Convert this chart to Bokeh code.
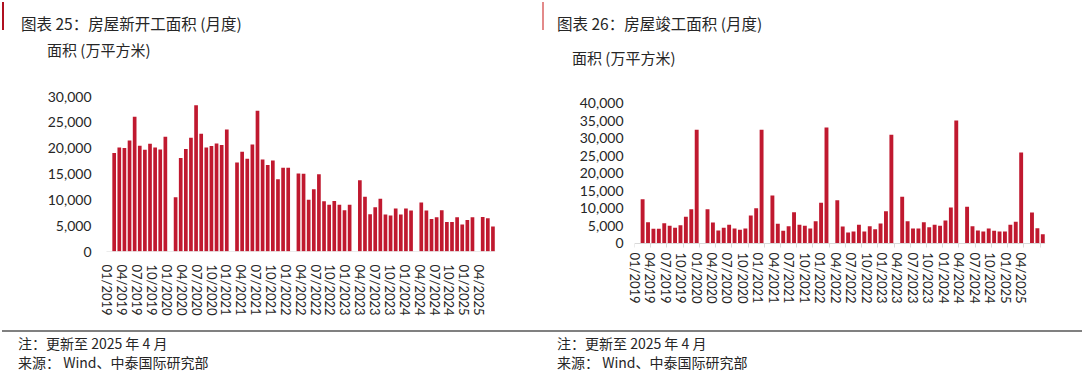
from bokeh.plotting import figure
from bokeh.models import (Range1d, FixedTicker, LinearAxis, ColumnDataSource,
                          NumeralTickFormatter, Div)
from bokeh.layouts import row, column
from bokeh.embed import file_html
from bokeh.resources import INLINE

# ---------------- data ----------------
tick_labels = ["01/2019", "04/2019", "07/2019", "10/2019",
               "01/2020", "04/2020", "07/2020", "10/2020",
               "01/2021", "04/2021", "07/2021", "10/2021",
               "01/2022", "04/2022", "07/2022", "10/2022",
               "01/2023", "04/2023", "07/2023", "10/2023",
               "01/2024", "04/2024", "07/2024", "10/2024",
               "01/2025", "04/2025"]

# 房屋新开工面积 (万平方米), Jan..Dec, January not reported
start_2019 = [None, 19050, 20140, 20010, 21490, 26060, 20460, 19690, 20850, 20140, 19760, 22200]
start_2020 = [None, 10490, 18080, 19820, 22010, 28310, 22780, 20140, 20400, 20910, 20590, 23620]
start_2021 = [None, 17250, 19300, 17950, 20720, 27220, 17830, 16730, 17630, 13960, 16220, 16220]
start_2022 = [None, 15120, 15060, 10040, 12030, 14930, 9720, 9070, 9780, 9070, 7980, 9070]
start_2023 = [None, 13770, 10620, 7210, 8560, 10230, 7140, 6950, 8300, 7140, 8300, 7920]
start_2024 = [None, 9460, 7920, 6310, 6630, 7980, 5730, 5730, 6630, 5210, 6110, 6630]
start_2025 = [None, 6690, 6440, 4830]

# 房屋竣工面积 (万平方米)
comp_2019 = [None, 12670, 6100, 4190, 4190, 5810, 5050, 4480, 5240, 7620, 9810, 32480]
comp_2020 = [None, 9810, 6000, 3710, 4480, 5330, 4290, 3900, 4290, 8000, 10100, 32480]
comp_2021 = [None, 13710, 5620, 3620, 4950, 8950, 5330, 5050, 4290, 6380, 11620, 33140]
comp_2022 = [None, 12380, 4860, 3140, 3430, 5330, 3430, 4950, 4100, 5710, 9240, 31050]
comp_2023 = [None, 13330, 6380, 4290, 4290, 6100, 4670, 5330, 5050, 6570, 10290, 35140]
comp_2024 = [None, 10480, 4950, 3710, 3430, 4290, 3620, 3430, 3430, 5330, 6190, 26000]
comp_2025 = [None, 8860, 4380, 2670]

starts = start_2019 + start_2020 + start_2021 + start_2022 + start_2023 + start_2024 + start_2025
comps = comp_2019 + comp_2020 + comp_2021 + comp_2022 + comp_2023 + comp_2024 + comp_2025

titles = ["图表 25：房屋新开工面积 (月度)", "图表 26：房屋竣工面积 (月度)"]
unit_label = "面积 (万平方米)"
note = "注：更新至 2025 年 4 月"
source_note = "来源： Wind、中泰国际研究部"

RED = "#C0192F"
TXT = "#262626"
CJK = "Noto Sans CJK SC"
NUM = "Lato"
W = 537
HEAD_H = 69
FIG_H = 241
FOOT_H = 42
FT, FB = 17, 69      # common frame for both panels


def panel(vals, y_range, y_end, fl, fw, lab_range, standoff_y, standoff_lab):
    n = len(vals)
    xs = [i + 0.5 for i, v in enumerate(vals) if v is not None]
    tops = [v for v in vals if v is not None]
    src = ColumnDataSource(dict(x=xs, top=tops))
    p = figure(width=W, height=FIG_H, output_backend="svg", toolbar_location=None,
               x_range=Range1d(0, n), y_range=Range1d(*y_range),
               min_border_left=fl, min_border_right=W - fl - fw,
               min_border_top=FT, min_border_bottom=FB)
    p.outline_line_color = None
    p.xgrid.visible = False
    p.ygrid.visible = False
    p.background_fill_color = "white"
    p.border_fill_color = "white"

    p.vbar(x="x", top="top", width=0.72, source=src, fill_color=RED, line_color=None)

    ya = p.yaxis[0]
    ya.ticker = FixedTicker(ticks=list(range(0, y_end + 1, 5000)))
    ya.formatter = NumeralTickFormatter(format="0,0")
    ya.axis_line_color = None
    ya.major_tick_line_color = None
    ya.minor_tick_line_color = None
    ya.major_tick_out = 0
    ya.major_tick_in = 0
    ya.major_label_standoff = standoff_y
    ya.major_label_text_font = NUM
    ya.major_label_text_font_size = "14px"
    ya.major_label_text_color = TXT

    xa = p.xaxis[0]
    bticks = list(range(0, n, 3))
    xa.ticker = FixedTicker(ticks=bticks)
    xa.fixed_location = 0
    xa.major_label_overrides = {t: "" for t in bticks}
    xa.major_label_text_font_size = "1px"
    xa.major_label_standoff = 0
    xa.axis_line_color = "#D9D9D9"
    xa.major_tick_line_color = "#D9D9D9"
    xa.minor_tick_line_color = None
    xa.major_tick_out = 4
    xa.major_tick_in = 0

    p.extra_x_ranges = {"lab": Range1d(*lab_range)}
    la = LinearAxis(x_range_name="lab")
    lticks = [3 * k for k in range(len(tick_labels))]
    la.ticker = FixedTicker(ticks=lticks)
    la.major_label_overrides = {t: s for t, s in zip(lticks, tick_labels)}
    la.major_label_orientation = "vertical"
    la.axis_line_color = None
    la.major_tick_line_color = None
    la.minor_tick_line_color = None
    la.major_tick_out = 0
    la.major_tick_in = 0
    la.major_label_standoff = standoff_lab
    la.major_label_text_font = NUM
    la.major_label_text_font_size = "13px"
    la.major_label_text_color = TXT
    p.add_layout(la, "below")
    return p


# left: 0 at frame bottom, 30,000 at frame top
p1 = panel(starts, (0, 30000), 30000, 106, 389, (-0.2, 78.3), 15, 13)
# right: 0 sits 8px above frame bottom, 40,000 7px below frame top
p2 = panel(comps, (-2290, 42000), 40000, 97, 411, (-0.05, 79.75), 11, 1)


def txt(x, top, s, size):
    return (f'<span style="position:absolute;left:{x}px;top:{top}px;font-size:{size}px;'
            f'line-height:1;white-space:nowrap;">{s}</span>')


head_html = (
    f'<div style="position:relative;width:1074px;height:{HEAD_H}px;font-family:\'{CJK}\';color:{TXT};">'
    '<div style="position:absolute;left:-3px;top:-3px;width:1.6px;height:28px;background:#B01020;"></div>'
    '<div style="position:absolute;left:537px;top:-3px;width:1.6px;height:28px;background:#E38A8A;"></div>'
    + txt(16, 11, titles[0], 15.5) + txt(42, 37, unit_label, 15)
    + txt(552, 11, titles[1], 15.5) + txt(567, 45, unit_label, 15)
    + '</div>'
)
foot_html = (
    f'<div style="position:relative;width:1074px;height:{FOOT_H}px;font-family:\'{CJK}\';color:{TXT};">'
    '<div style="position:absolute;left:-3px;top:5px;width:1080px;height:2px;background:#808080;"></div>'
    + txt(13, 11, note, 14) + txt(13, 30, source_note, 14)
    + txt(552, 11, note, 14) + txt(552, 30, source_note, 14)
    + '</div>'
)
head = Div(text=head_html, width=1074, height=HEAD_H)
foot = Div(text=foot_html, width=1074, height=FOOT_H)

layout = column(head, row(p1, p2), foot)
open("out.html", "w").write(file_html(layout, INLINE))
